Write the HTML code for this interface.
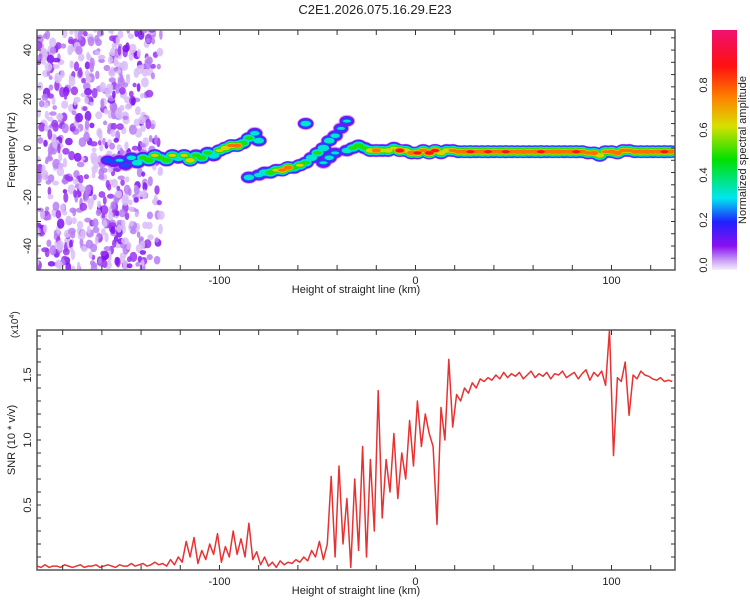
<!DOCTYPE html>
<html><head><meta charset="utf-8">
<style>
body{margin:0;background:#fff;}
svg{display:block;font-family:"Liberation Sans",sans-serif;}
</style></head>
<body>
<svg id="chart" width="750" height="600" viewBox="0 0 750 600">
<defs>
<linearGradient id="cbar" x1="0" y1="1" x2="0" y2="0">
<stop offset="0" stop-color="#f4eefc"/>
<stop offset="0.04" stop-color="#c9a0f5"/>
<stop offset="0.1" stop-color="#8a10f0"/>
<stop offset="0.2" stop-color="#2020ff"/>
<stop offset="0.3" stop-color="#00e6f0"/>
<stop offset="0.46" stop-color="#00e000"/>
<stop offset="0.6" stop-color="#d8e000"/>
<stop offset="0.72" stop-color="#ff8000"/>
<stop offset="0.85" stop-color="#ff1010"/>
<stop offset="1" stop-color="#f01070"/>
</linearGradient>
<clipPath id="clipTop"><rect x="37" y="30" width="638" height="240"/></clipPath>
<clipPath id="clipBot"><rect x="37" y="330" width="638" height="240"/></clipPath>
</defs>
<text x="375" y="14" text-anchor="middle" font-size="13" fill="#222">C2E1.2026.075.16.29.E23</text>
<g id="spec" clip-path="url(#clipTop)"></g>
<g id="topAxes"></g>
<g id="snr" clip-path="url(#clipBot)"></g>
<g id="botAxes"></g>
<rect x="712" y="30" width="25" height="240" fill="url(#cbar)"/>
<g id="cbarTicks"></g>
<text transform="translate(746,150) rotate(-90)" text-anchor="middle" font-size="11" fill="#222">Normalized spectral amplitude</text>
<text x="356" y="293" text-anchor="middle" font-size="11" fill="#222">Height of straight line (km)</text>
<text x="356" y="594" text-anchor="middle" font-size="11" fill="#222">Height of straight line (km)</text>
<text transform="translate(15,150) rotate(-90)" text-anchor="middle" font-size="11" fill="#222">Frequency (Hz)</text>
<text transform="translate(15,440) rotate(-90)" text-anchor="middle" font-size="11" fill="#222">SNR (10 * v/v)</text>
<text transform="translate(18,338) rotate(-90)" font-size="10" fill="#222">(x10<tspan dy="-4" font-size="7">4</tspan><tspan dy="4">)</tspan></text>
</svg>
<script>
const xTicks=[-100,0,100];
const fTicks=[-40,-20,0,20,40];
const snrTicks=[0.5,1.0,1.5];
const cbTicks=[0.0,0.2,0.4,0.6,0.8];
// SNR values (x10^4) every 2 km starting at -193
const snrStart=-193, snrStep=2;
const snrVals=[0.03,0.02,0.04,0.02,0.03,0.03,0.02,0.04,0.03,0.02,0.03,0.04,0.02,0.03,0.03,0.04,0.02,0.03,0.04,0.03,0.02,0.04,0.03,0.03,0.05,0.03,0.04,0.05,0.03,0.04,0.06,0.04,
0.05,0.03,0.08,0.04,0.1,
0.06,0.22,0.1,0.25,0.05,0.15,0.08,0.2,0.12,0.28,0.06,0.18,0.1,0.3,0.12,0.24,0.1,0.36,
0.08,0.14,0.04,0.1,0.03,0.06,0.02,0.07,0.04,0.06,0.05,0.08,0.06,0.1,0.07,
0.15,0.1,0.22,0.08,0.2,
0.72,0.1,0.8,0.2,0.55,0.02,0.7,0.15,0.95,0.1,0.85,0.3,
1.38,0.4,0.85,0.6,1.05,0.55,0.9,0.7,1.15,0.8,
1.3,0.95,1.2,1.05,0.95,0.35,1.25,1.0,1.62,1.1,
1.35,1.3,1.4,1.36,1.44,1.4,1.47,1.45,1.48,1.46,
1.5,1.47,1.52,1.48,1.51,1.49,1.52,1.47,1.5,1.53,1.48,1.51,1.49,1.52,1.47,1.51,1.5,1.53,1.48,1.5,1.52,1.47,1.51,1.54,1.46,1.52,1.49,1.53,
1.42,1.85,0.88,1.48,1.45,1.6,1.19,1.5,1.47,1.53,1.5,1.49,1.47,1.46,1.48,1.45,1.46,1.45];
// spectrogram ridge points
const ridgeKm=[-157,-154,-151,-148,-145,-142,-139,-136,-133,-130,-127,-124,-121,-118,-115,-112,-109,-106,-103,-100,-97,-94,-91,-88,-85,-82,-80,
-85,-80,-77,-74,-71,-68,-65,-62,-59,-56,-53,-50,-47,-44,-41,-38,-35,-47,-44,-41,-56,
-35,-32,-29,-26,-23,-20,-17,-14,-11,-8,-5,-2,1,4,7,10,13,16,19,22,25,28,31,34,37,40,43,46,49,52,55,58,61,64,67,70,73,76,79,82,85,88,91,94,97,100,103,106,109,112,115,118,121,124,127,130,133];
const ridgeFreq=[-5,-6,-5,-7,-4,-6,-4,-5,-3,-4,-5,-3,-4,-3,-5,-3,-4,-2,-3,-1,0,1,1,2,4,6,3,
-12,-11,-10,-10,-9,-9,-8,-8,-7,-6,-4,-2,0,3,5,8,11,-6,-4,-2,10,
-1,0,1,0,-1,-1,-1,-1,0,-1,-1,-2,-2,-1,-2,-1,-2,-1,-1,-1.5,-1.5,-1.5,-1.5,-1.5,-1.5,-1.5,-1.5,-1.5,-1.5,-1.5,-1.5,-1.5,-1.5,-1.5,-1.5,-1.5,-1.5,-1.5,-1.5,-1.5,-1.5,-2,-2,-3,-1.5,-1.5,-2,-1,-1,-1.5,-1.5,-1.5,-1.5,-1.5,-1.5,-1.5,-1.5];
const ridgeAmp=[0.25,0.2,0.3,0.25,0.35,0.4,0.5,0.55,0.6,0.5,0.55,0.6,0.45,0.6,0.7,0.5,0.55,0.5,0.45,0.6,0.7,0.75,0.8,0.55,0.5,0.35,0.4,
0.4,0.35,0.45,0.55,0.6,0.75,0.8,0.55,0.6,0.5,0.45,0.5,0.45,0.4,0.35,0.3,0.3,0.3,0.35,0.3,0.4,
0.4,0.5,0.55,0.5,0.7,0.8,0.65,0.7,0.6,0.9,0.7,0.8,0.85,0.75,0.9,0.85,0.7,0.7,0.75,0.8,0.82,0.85,0.8,0.82,0.85,0.8,0.82,0.85,0.8,0.82,0.84,0.8,0.82,0.85,0.8,0.82,0.84,0.8,0.82,0.85,0.8,0.75,0.8,0.7,0.72,0.8,0.82,0.78,0.75,0.8,0.82,0.84,0.8,0.82,0.85,0.82,0.8];

const NS="http://www.w3.org/2000/svg";
const X0=37,X1=675,KM0=-193.1,KM1=132.4;
function xs(km){return X0+(km-KM0)/(KM1-KM0)*(X1-X0);}
function yf(f){return 30+(48.2-f)/(48.2+49.8)*240;}
function ys(v){return 570-v/1.846*240;}
function mk(tag,attrs,parent){const e=document.createElementNS(NS,tag);for(const k in attrs)e.setAttribute(k,attrs[k]);parent.appendChild(e);return e;}
function cmap(a){
 const st=[[0,[244,238,252]],[0.04,[201,160,245]],[0.1,[138,16,240]],[0.2,[32,32,255]],[0.3,[0,230,240]],[0.46,[0,224,0]],[0.6,[216,224,0]],[0.72,[255,128,0]],[0.85,[255,16,16]],[1,[240,16,112]]];
 for(let i=1;i<st.length;i++){if(a<=st[i][0]){const t=(a-st[i-1][0])/(st[i][0]-st[i-1][0]);const c=st[i-1][1].map((v,j)=>Math.round(v+(st[i][1][j]-v)*t));return `rgb(${c})`;}}
 return 'rgb(240,16,112)';
}
// background noise texture (decorative, deterministic)
const spec=document.getElementById('spec');
let seed=7;function rnd(){seed=(seed*16807)%2147483647;return seed/2147483647;}
for(let i=0;i<680;i++){
 let x=37+rnd()*125; const y=30+rnd()*240;
 if(x>150 && rnd()<0.5) x-=40;
 const lv=rnd(); const a=lv<0.4?0.025:(lv<0.72?0.055:(lv<0.9?0.085:0.11));
 const e=mk('ellipse',{cx:x.toFixed(1),cy:y.toFixed(1),rx:(1.8+rnd()*2.2).toFixed(1),ry:(2.2+rnd()*3.2).toFixed(1),fill:cmap(a),opacity:0.85},spec);
 
 
}
// ridges: layered contours
const levels=[0.04,0.1,0.2,0.3,0.46,0.6,0.72,0.85];
levels.forEach(L=>{
 ridgeKm.forEach((km,i)=>{
  const a=ridgeAmp[i]; if(a<L) return;
  const frac=1-L/a;
  const rx=2+frac*5, ry=1.5+frac*5.5;
  const e=mk('ellipse',{cx:xs(km).toFixed(1),cy:yf(ridgeFreq[i]).toFixed(1),rx:(rx+2).toFixed(1),ry:ry.toFixed(1),fill:cmap(L+0.02),opacity:L<0.05?0.6:1},spec);
  
  
 });
});
// axes
function frame(g,y0,y1){
 mk('rect',{x:X0,y:y0,width:X1-X0,height:y1-y0,fill:'none',stroke:'#555','stroke-width':1.5},g);
 for(let km=-180;km<=130;km+=20){const x=xs(km);mk('line',{x1:x,y1:y0,x2:x,y2:y0+5,stroke:'#333'},g);mk('line',{x1:x,y1:y1,x2:x,y2:y1-5,stroke:'#333'},g);}
}
const tA=document.getElementById('topAxes'),bA=document.getElementById('botAxes');
frame(tA,30,270);frame(bA,330,570);
for(let f=-45;f<=45;f+=5){const y=yf(f);mk('line',{x1:X0,y1:y,x2:X0+4,y2:y,stroke:'#333'},tA);mk('line',{x1:X1,y1:y,x2:X1-4,y2:y,stroke:'#333'},tA);}
for(let v=0.1;v<1.85;v+=0.1){const y=ys(v);mk('line',{x1:X0,y1:y,x2:X0+4,y2:y,stroke:'#333'},bA);mk('line',{x1:X1,y1:y,x2:X1-4,y2:y,stroke:'#333'},bA);}
xTicks.forEach(k=>{
 [[tA,284],[bA,585]].forEach(([g,y])=>{const t=mk('text',{x:xs(k),y:y,'text-anchor':'middle','font-size':11,fill:'#222'},g);t.textContent=k;
 
 });
});
fTicks.forEach(f=>{const t=mk('text',{transform:`translate(31,${yf(f)}) rotate(-90)`,'text-anchor':'middle','font-size':11,fill:'#222'},tA);t.textContent=f;
 
 });
snrTicks.forEach(v=>{const t=mk('text',{transform:`translate(31,${ys(v)}) rotate(-90)`,'text-anchor':'middle','font-size':11,fill:'#222'},bA);t.textContent=v.toFixed(1);
 
 });
const cg=document.getElementById('cbarTicks');
cbTicks.forEach(v=>{const y=265-v*225;const t=mk('text',{transform:`translate(707,${y}) rotate(-90)`,'text-anchor':'middle','font-size':11,fill:'#222'},cg);t.textContent=v.toFixed(1);
 
 });
// SNR line
const pts=snrVals.map((v,i)=>xs(snrStart+i*snrStep).toFixed(1)+','+ys(v).toFixed(1)).join(' ');
const pl=mk('polyline',{points:pts,fill:'none',stroke:'#e83232','stroke-width':1.5,'stroke-linejoin':'round'},document.getElementById('snr'));


</script>
</body></html>
